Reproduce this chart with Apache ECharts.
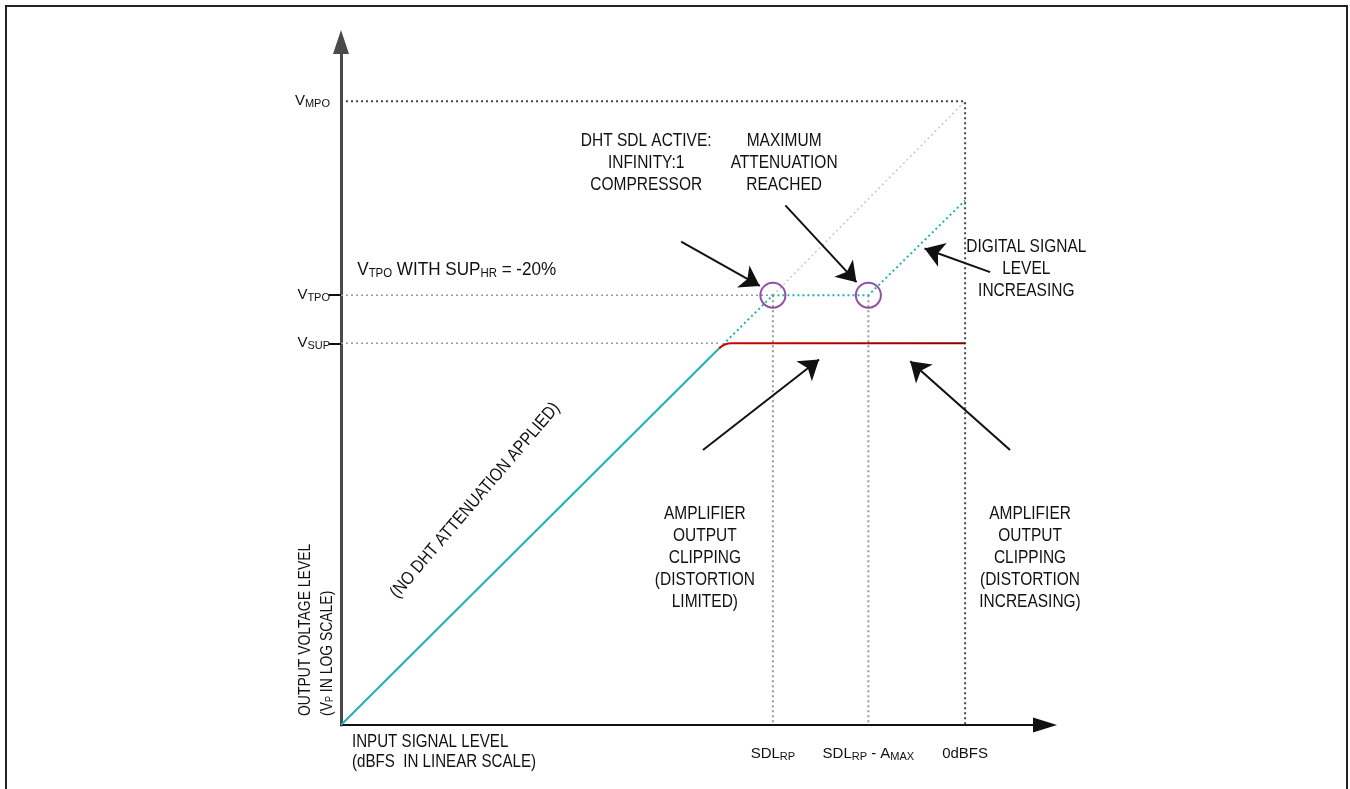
<!DOCTYPE html>
<html>
<head>
<meta charset="utf-8">
<script src="https://cdn.jsdelivr.net/npm/echarts@6/dist/echarts.min.js"></script>
<style>
html,body{margin:0;padding:0;background:#fff;}
#chart{width:1350px;height:789px;}
</style>
</head>
<body>
<div id="chart"></div>
<script>
// ---- data (x: input level, linear; y: output level, log) ----
const V_MPO = 100, V_TPO = 68.9, V_SUP = 61.2;
const SDL_RP = 69.2, SDL_RP_AMAX = 84.5, ZERO_DBFS = 100;
const yTickValues = [V_SUP, V_TPO, V_MPO];
const yTickLabels = ['{v|V}{s|SUP}', '{v|V}{s|TPO}', '{v|V}{s|MPO}'];
const xTickValues = [SDL_RP, SDL_RP_AMAX, ZERO_DBFS];
const xTickLabels = ['{v|SDL}{s|RP}', '{v|SDL}{s|RP}{v| - A}{s|MAX}', '{v|0dBFS}'];

const noAttenuation = [[0, 0], [60.6, 60.4]];
const clippedOutput = [[60.6, 60.4], [61.5, 61.0], [62.6, 61.2], [100, 61.2]];
const digitalSignal = [[60.6, 60.4], [69.2, 68.9], [84.5, 68.9], [100, 84.1]];
const unityDiagonal = [[69.2, 68.9], [100, 100]];
const vmpoGuide = [[0, 100], [100, 100], [100, 0]];
const vtpoGuide = [[0, 68.9], [69.2, 68.9]];
const vsupGuide = [[0, 61.2], [60.6, 61.2]];
const sdlGuide = [[69.2, 68.9], [69.2, 0]];
const amaxGuide = [[84.5, 68.9], [84.5, 0]];
const circlePoints = [[69.2, 68.9], [84.5, 68.9]];

const arrowStarts = [[54.5, 77.5], [71.2, 83.3], [104.0, 72.6], [58.0, 44.1], [107.2, 44.1]];
const arrowEnds   = [[67.1, 70.4], [82.6, 71.0], [93.5, 76.4], [76.6, 58.6], [91.2, 58.3]];

const noteTexts = [
  'DHT SDL ACTIVE:\nINFINITY:1\nCOMPRESSOR',
  'MAXIMUM\nATTENUATION\nREACHED',
  'DIGITAL SIGNAL\nLEVEL\nINCREASING',
  'AMPLIFIER\nOUTPUT\nCLIPPING\n(DISTORTION\nLIMITED)',
  'AMPLIFIER\nOUTPUT\nCLIPPING\n(DISTORTION\nINCREASING)',
  '{n|V}{s|TPO}{n| WITH SUP}{s|HR}{n| = -20%}',
  '(NO DHT ATTENUATION APPLIED)'
];
const notePositions = [[48.9, 90.1], [71.0, 90.1], [109.8, 73.1], [58.3, 26.8], [110.4, 26.8], [2.6, 72.9], [21.5, 36.0]];
const noteAligns = ['center', 'center', 'center', 'center', 'center', 'left', 'center'];
const noteRotations = [0, 0, 0, 0, 0, 0, 49.5];
const noteWidths = [0.86, 0.86, 0.86, 0.86, 0.86, 0.95, 0.86];

const yAxisName = '{n|OUTPUT VOLTAGE LEVEL}\n{n|(V}{s|P}{n| IN LOG SCALE)}';
const xAxisName = 'INPUT SIGNAL LEVEL\n(dBFS  IN LINEAR SCALE)';

const FONT = "'Liberation Sans',Arial,sans-serif";
const TEAL = '#20b2aa';

const chart = echarts.init(document.getElementById('chart'));

function guide(data, color, width) {
  return {
    type: 'line', data: data, showSymbol: false, silent: true, z: 1,
    lineStyle: {color: color, width: width, type: [2, 3]}
  };
}

const richSub = {
  v: {fontSize: 15, fontFamily: FONT, color: '#111'},
  s: {fontSize: 11, fontFamily: FONT, color: '#111', padding: [5, 0, 0, 0]}
};

chart.setOption({
  animation: false,
  backgroundColor: '#fff',
  grid: {left: 341, right: 305, top: 42, bottom: 64},
  xAxis: {
    type: 'value', min: 0, max: 112.8,
    splitLine: {show: false},
    axisLine: {show: true, lineStyle: {color: '#111', width: 2}, symbol: ['none', 'triangle'], symbolSize: [15, 24]},
    axisTick: {show: false},
    axisLabel: {
      customValues: xTickValues, margin: 21,
      formatter: function (v) { const i = xTickValues.indexOf(v); return i >= 0 ? xTickLabels[i] : ''; },
      rich: richSub
    }
  },
  yAxis: {
    type: 'value', min: 0, max: 109.5,
    splitLine: {show: false},
    axisLine: {show: true, lineStyle: {color: '#4a4a4a', width: 3}, symbol: ['none', 'triangle'], symbolSize: [16, 24]},
    axisTick: {show: true, customValues: [V_SUP, V_TPO], length: 12, lineStyle: {color: '#111', width: 2}},
    axisLabel: {
      customValues: yTickValues, margin: 11,
      formatter: function (v) { const i = yTickValues.indexOf(v); return i >= 0 ? yTickLabels[i] : ''; },
      rich: richSub
    }
  },
  series: [
    guide(unityDiagonal, '#c8c8c8', 1.5),
    guide(vtpoGuide, '#999', 1.5),
    guide(vsupGuide, '#999', 1.5),
    guide(sdlGuide, '#999', 2),
    guide(amaxGuide, '#999', 2),
    guide(vmpoGuide, '#444', 2),
    {
      type: 'line', data: digitalSignal, showSymbol: false, z: 3,
      lineStyle: {color: TEAL, width: 2, type: [2, 3]}
    },
    {
      type: 'line', data: noAttenuation, showSymbol: false, z: 4,
      lineStyle: {color: TEAL, width: 2}
    },
    {
      type: 'line', data: clippedOutput, showSymbol: false, smooth: 0.5, z: 5,
      lineStyle: {width: 2, color: {type: 'linear', x: 0, y: 0, x2: 1, y2: 0,
        colorStops: [{offset: 0, color: '#d40000'}, {offset: 1, color: '#8a0000'}]}}
    },
    {
      type: 'scatter', data: circlePoints, symbol: 'circle', symbolSize: 25, z: 6,
      itemStyle: {color: 'rgba(0,0,0,0)', borderColor: '#74268e', borderWidth: 2}
    },
    {
      type: 'scatter', data: [], z: 7, silent: true,
      markLine: {
        silent: true, symbol: ['none', 'arrow'], symbolSize: 19,
        lineStyle: {color: '#111', width: 2, type: 'solid'},
        label: {show: false},
        data: arrowStarts.map(function (s, i) { return [{coord: s}, {coord: arrowEnds[i]}]; })
      }
    }
  ]
});

// Annotation text placed at data positions (narrow font emulated by horizontal scale)
const rich = {
  n: {fontSize: 18, fontFamily: FONT, fill: '#111', lineHeight: 22},
  s: {fontSize: 12, fontFamily: FONT, fill: '#111', lineHeight: 22, padding: [6, 0, 0, 0]}
};
const graphics = [
  {type: 'rect', shape: {x: 6, y: 6, width: 1341, height: 820}, style: {fill: 'none', stroke: '#222', lineWidth: 2}, silent: true}
];
noteTexts.forEach(function (t, i) {
  const p = chart.convertToPixel({gridIndex: 0}, notePositions[i]);
  graphics.push({
    type: 'text', x: p[0], y: p[1], scaleX: noteWidths[i], rotation: noteRotations[i] * Math.PI / 180, z: 100,
    style: {text: t, align: noteAligns[i], verticalAlign: 'middle',
      font: '18px ' + FONT, fill: '#111', lineHeight: 22, rich: rich}
  });
});
const origin = chart.convertToPixel({gridIndex: 0}, [0, 0]);
graphics.push({
  type: 'text', x: origin[0] - 25, y: origin[1] - 9, rotation: Math.PI / 2, scaleX: 0.82, z: 100,
  style: {text: yAxisName, align: 'left', verticalAlign: 'middle',
    rich: {n: {fontSize: 17, fontFamily: FONT, fill: '#111', lineHeight: 22}, s: {fontSize: 11, fontFamily: FONT, fill: '#111', lineHeight: 22, padding: [6, 0, 0, 0]}}}
});
graphics.push({
  type: 'text', x: origin[0] + 11, y: origin[1] + 27, scaleX: 0.84, z: 100,
  style: {text: xAxisName, align: 'left', verticalAlign: 'middle', font: '18px ' + FONT, fill: '#111', lineHeight: 20}
});
chart.setOption({graphic: graphics});
</script>
</body>
</html>
